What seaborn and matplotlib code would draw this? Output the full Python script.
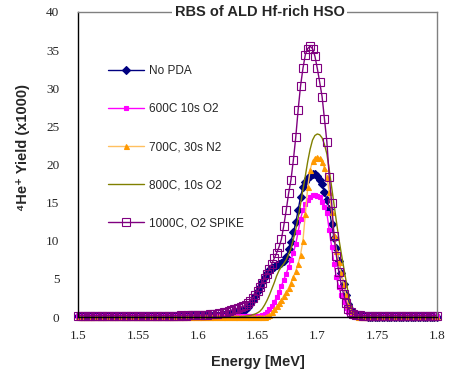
import numpy as np
import pandas as pd
import seaborn as sns
import matplotlib
matplotlib.use("Agg")
import matplotlib.pyplot as plt
from matplotlib.ticker import MultipleLocator, FuncFormatter


###############################################################################
### DATA (energy step 2 keV)
###############################################################################
energy = np.round(np.linspace(1.5, 1.8, 151), 3)

labels = ["No PDA", "600C 10s O2", "700C, 30s N2", "800C, 10s O2", "1000C, O2 SPIKE"]

# 1.500 - 1.598 MeV
base_no_pda = [0.1] * 50
base_600 = [0.1] * 50
base_700 = [0.0] * 50
base_800 = [0.0] * 50
base_1000 = [0.2, 0.2, 0.2, 0.2, 0.2, 0.2, 0.2, 0.2, 0.2, 0.2,
             0.2, 0.2, 0.2, 0.2, 0.2, 0.2, 0.2, 0.2, 0.2, 0.2,
             0.2, 0.2, 0.2, 0.2, 0.2, 0.2, 0.2, 0.2, 0.2, 0.2,
             0.2, 0.2, 0.2, 0.2, 0.2, 0.2, 0.2, 0.2, 0.2, 0.2,
             0.2, 0.2, 0.2, 0.25, 0.2, 0.2, 0.25, 0.25, 0.25, 0.25]

# 1.600 - 1.740 MeV
peak_no_pda = [0.1, 0.1, 0.1, 0.1, 0.15, 0.15, 0.15, 0.2, 0.2, 0.2,
               0.25, 0.3, 0.35, 0.4, 0.45, 0.5, 0.55, 0.65, 0.75, 0.85,
               1.0, 1.3, 1.7, 2.2, 2.8, 3.4, 4.0, 4.6, 5.2, 5.8,
               6.2, 6.4, 6.6, 6.8, 6.95, 7.1, 7.4, 7.9, 8.9, 9.9,
               11.1, 12.4, 14.0, 15.8, 17.0, 17.7, 18.2, 18.5, 18.7, 18.75,
               18.5, 18.0, 17.4, 16.4, 15.4, 14.2, 12.2, 10.4, 9.0, 7.3,
               5.8, 4.3, 2.9, 1.7, 0.9, 0.5, 0.3, 0.15, 0.1, 0.1,
               0.1]
peak_600 = [0.1, 0.1, 0.1, 0.1, 0.1, 0.1, 0.1, 0.1, 0.1, 0.1,
            0.1, 0.1, 0.1, 0.1, 0.1, 0.1, 0.1, 0.1, 0.1, 0.1,
            0.1, 0.1, 0.1, 0.1, 0.15, 0.15, 0.2, 0.25, 0.35, 0.6,
            1.0, 1.5, 2.0, 2.6, 3.3, 4.1, 4.9, 5.7, 6.6, 7.5,
            8.4, 9.6, 11.2, 12.9, 14.0, 14.8, 15.4, 15.8, 15.95, 16.0,
            15.9, 15.7, 15.1, 14.4, 13.6, 11.4, 9.2, 7.0, 5.2, 3.9,
            2.9, 2.0, 1.2, 0.6, 0.3, 0.15, 0.1, 0.1, 0.1, 0.1,
            0.1]
peak_700 = [0.0, 0.0, 0.0, 0.0, 0.0, 0.0, 0.0, 0.0, 0.0, 0.0,
            0.0, 0.0, 0.0, 0.0, 0.0, 0.0, 0.0, 0.0, 0.0, 0.0,
            0.0, 0.0, 0.0, 0.0, 0.0, 0.0, 0.0, 0.05, 0.05, 0.1,
            0.3, 0.6, 1.0, 1.4, 1.8, 2.3, 2.8, 3.3, 3.8, 4.5,
            5.3, 6.0, 7.0, 8.2, 10.0, 13.5, 17.0, 19.3, 20.4, 20.9,
            21.0, 20.8, 20.3, 19.6, 18.4, 16.4, 13.8, 10.8, 8.7, 7.2,
            5.8, 4.3, 2.9, 1.6, 0.8, 0.3, 0.1, 0.0, 0.0, 0.0,
            0.0]
peak_800 = [0.0, 0.0, 0.0, 0.0, 0.0, 0.0, 0.0, 0.0, 0.0, 0.0,
            0.0, 0.0, 0.0, 0.0, 0.0, 0.0, 0.0, 0.0, 0.05, 0.05,
            0.1, 0.15, 0.2, 0.3, 0.4, 0.55, 0.75, 1.1, 1.6, 2.2,
            2.9, 3.7, 4.5, 5.4, 6.1, 6.6, 7.0, 7.5, 8.2, 9.0,
            10.2, 11.5, 13.0, 14.8, 16.7, 18.5, 20.4, 22.0, 23.2, 23.8,
            24.0, 23.9, 23.5, 22.6, 21.4, 19.3, 17.0, 14.7, 12.5, 10.3,
            8.4, 6.6, 4.8, 3.0, 1.6, 0.7, 0.3, 0.1, 0.0, 0.0,
            0.0]
peak_1000 = [0.25, 0.25, 0.3, 0.3, 0.3, 0.35, 0.35, 0.4, 0.45, 0.5,
             0.55, 0.6, 0.7, 0.8, 0.9, 1.0, 1.1, 1.2, 1.3, 1.4,
             1.55, 1.8, 2.1, 2.5, 2.9, 3.4, 3.9, 4.5, 5.1, 5.7,
             6.3, 7.0, 7.7, 8.4, 9.2, 10.2, 12.0, 14.0, 16.2, 18.0,
             20.6, 23.6, 27.2, 30.3, 32.6, 34.4, 35.2, 35.5, 35.2, 34.2,
             32.6, 30.8, 28.9, 26.0, 23.0, 18.4, 15.0, 10.6, 8.0, 5.9,
             4.3, 3.0, 1.9, 1.1, 0.6, 0.35, 0.3, 0.25, 0.25, 0.2,
             0.2]

# 1.742 - 1.800 MeV
tail_no_pda = [0.05] * 30
tail_600 = [0.1] * 30
tail_700 = [0.0] * 30
tail_800 = [0.0] * 30
tail_1000 = [0.2] * 30

yield_no_pda = base_no_pda + peak_no_pda + tail_no_pda
yield_600 = base_600 + peak_600 + tail_600
yield_700 = base_700 + peak_700 + tail_700
yield_800 = base_800 + peak_800 + tail_800
yield_1000 = base_1000 + peak_1000 + tail_1000

df = pd.DataFrame({"energy": energy,
                   labels[0]: yield_no_pda, labels[1]: yield_600,
                   labels[2]: yield_700, labels[3]: yield_800,
                   labels[4]: yield_1000})

###############################################################################
### PLOT
###############################################################################
sns.set_style("white")
plt.rcParams["font.family"] = ["Liberation Sans", "DejaVu Sans"]

fig = plt.figure(figsize=(4.49, 3.73), dpi=100)
ax = fig.add_axes([0.174, 0.150, 0.799, 0.818])

styles = {
    labels[0]: dict(color="#000080", marker="D", markersize=3.6,
                    markerfacecolor="#000080", markeredgecolor="#000080"),
    labels[1]: dict(color="#FF00FF", marker="s", markersize=2.9,
                    markerfacecolor="#FF00FF", markeredgecolor="#FF00FF"),
    labels[2]: dict(color="#FFC060", marker="^", markersize=3.6,
                    markerfacecolor="#FF9900", markeredgecolor="#FF9900"),
    labels[3]: dict(color="#808000", marker=None),
    labels[4]: dict(color="#800080", marker="s", markersize=5.5,
                    markerfacecolor="none", markeredgecolor="#800080"),
}

for name in labels:
    sns.lineplot(data=df, x="energy", y=name, ax=ax, label=name,
                 errorbar=None, linewidth=1.0, markeredgewidth=0.8,
                 clip_on=False, **styles[name])

ax.set_xlim(1.5, 1.8)
ax.set_ylim(0, 40)

ax.xaxis.set_major_locator(MultipleLocator(0.05))
ax.xaxis.set_minor_locator(MultipleLocator(0.01))
ax.yaxis.set_major_locator(MultipleLocator(5))
ax.yaxis.set_minor_locator(MultipleLocator(1))
ax.xaxis.set_major_formatter(FuncFormatter(lambda v, p: f"{v:g}"))

ax.tick_params(which="major", direction="in", length=4, width=1,
               color="black", pad=9, labelsize=9.5)
ax.tick_params(which="minor", direction="in", length=2.5, width=0.8,
               color="black")
ax.tick_params(axis="y", which="major", direction="inout", length=5, pad=11)
for lab in ax.get_xticklabels() + ax.get_yticklabels():
    lab.set_family("Liberation Serif")

for side in ["left", "bottom"]:
    ax.spines[side].set_color("black")
    ax.spines[side].set_linewidth(1.0)
for side in ["top", "right"]:
    ax.spines[side].set_color("#808080")
    ax.spines[side].set_linewidth(1.0)

ax.set_xlabel("Energy [MeV]", fontweight="bold", fontsize=10.5)
ax.set_ylabel("\u2074He\u207a Yield (x1000)", fontweight="bold", fontsize=10.5)
ax.xaxis.set_label_coords(0.5, -0.125)
ax.yaxis.set_label_coords(-0.134, 0.557)

ax.text(0.506, 1.0, "RBS of ALD Hf-rich HSO", transform=ax.transAxes,
        ha="center", va="center", fontweight="bold", fontsize=10.5,
        zorder=10, bbox=dict(facecolor="white", edgecolor="none", pad=2))

ax.legend(loc="upper left", bbox_to_anchor=(0.055, 0.86), frameon=False,
          handlelength=3.0, labelspacing=2.2, fontsize=8.5, handletextpad=0.4)

fig.savefig("out.png", dpi=100)
